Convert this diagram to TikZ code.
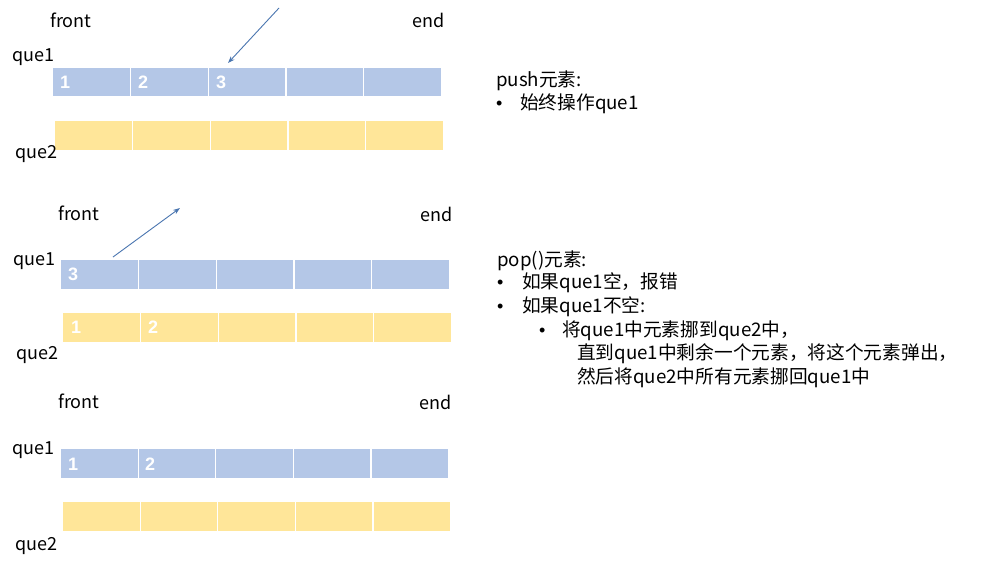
\documentclass[tikz,border=0pt]{standalone}
\usepackage{fontspec}
\setmainfont{Noto Sans CJK SC}
\newfontfamily\numfont{Liberation Sans}
\usetikzlibrary{arrows.meta}
\definecolor{qblue}{HTML}{B4C7E7}
\definecolor{qyellow}{HTML}{FFE699}
\definecolor{arr}{HTML}{4A76B0}
\begin{document}
\begin{tikzpicture}[x=1pt,y=-1pt,
 cell/.style={draw=white, line width=1.2pt, inner sep=0, minimum width=77.8pt, minimum height=29.5pt, anchor=north west},
 bc/.style={cell, fill=qblue}, yc/.style={cell, fill=qyellow},
 lbl/.style={anchor=base west, inner sep=0, font=\fontsize{18}{20}\selectfont},
 txt/.style={anchor=base west, inner sep=0, font=\fontsize{18.7}{20}\selectfont},
 bul/.style={anchor=base west, inner sep=0, font=\numfont\fontsize{18}{20}\selectfont},
 num/.style={anchor=base west, inner sep=0, text=white, font=\numfont\bfseries\fontsize{18}{20}\selectfont},
 arrowline/.style={draw=arr, line width=0.9pt, -{Stealth[length=7pt,width=5pt]}}]
\fill[white] (0,0) rectangle (1006,563);
\useasboundingbox (0,0) rectangle (1006,563);
% section 1
\foreach \i in {0,...,4} {
  \node[bc] (a\i) at ({52+77.8*\i},66.5) {};
  \node[yc] (b\i) at ({54+77.8*\i},120) {};
}
% section 2
\foreach \i in {0,...,4} {
  \node[bc] (c\i) at ({60+77.8*\i},259) {};
  \node[yc] (d\i) at ({62+77.8*\i},312) {};
}
% section 3
\foreach \i in {0,...,4} {
  \node[bc] (e\i) at ({60+77.6*\i},448) {};
  \node[yc] (f\i) at ({62+77.6*\i},501) {};
}
% labels section 1
\node[lbl] (fr1) at (50,27) {front};
\node[lbl] (en1) at (412,27) {end};
\node[lbl] (q11) at (12,61) {que1};
\node[lbl] (q21) at (15,158) {que2};
\node[num] (n11) at (60,88) {1};
\node[num] (n12) at (138,88) {2};
\node[num] (n13) at (216,88) {3};
% labels section 2
\node[lbl] (fr2) at (58,220) {front};
\node[lbl] (en2) at (420,221) {end};
\node[lbl] (q12) at (13,265) {que1};
\node[lbl] (q22) at (16,359) {que2};
\node[num] (n21) at (68,280) {3};
\node[num] (n22) at (71,333) {1};
\node[num] (n23) at (148,333) {2};
% labels section 3
\node[lbl] (fr3) at (58,408) {front};
\node[lbl] (en3) at (419,409) {end};
\node[lbl] (q13) at (12,454) {que1};
\node[lbl] (q23) at (15,550) {que2};
\node[num] (n31) at (68,470) {1};
\node[num] (n32) at (145,470) {2};
% arrows
\coordinate (s1) at (279,8);
\coordinate (t1) at (228,63);
\draw[arrowline] (s1) -- (t1);
\coordinate (s2) at (113,257);
\coordinate (t2) at (180,208);
\draw[arrowline] (s2) -- (t2);
% right text
\node[txt] (pushh) at (496,86) {push元素:};
\node[bul] (pb1) at (496,109) {•};
\node[txt] (pt1) at (520,109) {始终操作que1};
\node[txt] (poph) at (497,266) {pop()元素:};
\node[bul] (ob1) at (497,288) {•};
\node[txt] (ot1) at (522,288) {如果que1空，报错};
\node[bul] (ob2) at (497,312) {•};
\node[txt] (ot2) at (522,312) {如果que1不空:};
\node[bul] (sb1) at (539,336) {•};
\node[txt] (st1) at (562,336) {将que1中元素挪到que2中，};
\node[txt] (st2) at (577,359) {直到que1中剩余一个元素，将这个元素弹出，};
\node[txt] (st3) at (577,383) {然后将que2中所有元素挪回que1中};
\end{tikzpicture}
\end{document}
